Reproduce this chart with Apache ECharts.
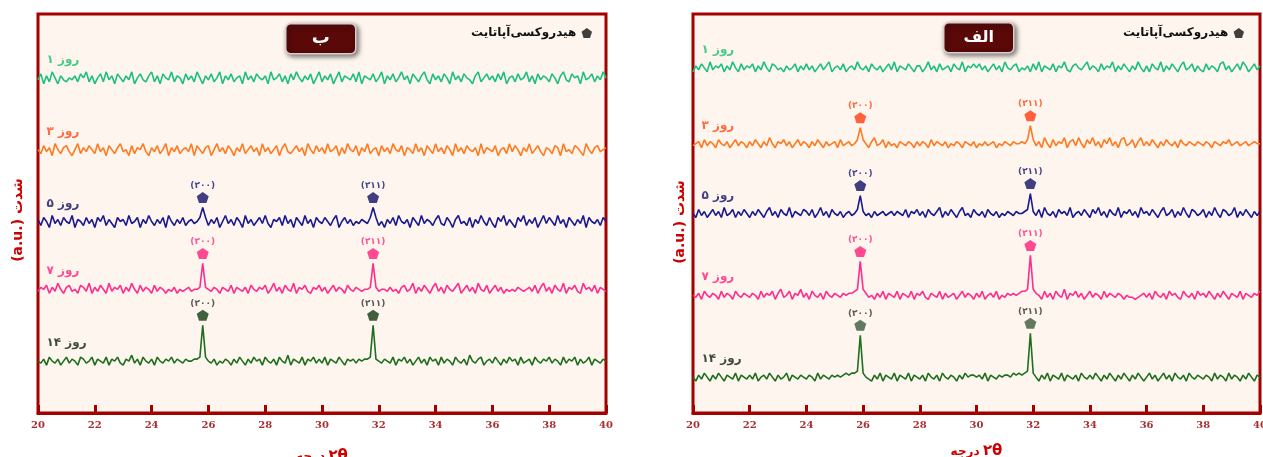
<!DOCTYPE html>
<html><head><meta charset="utf-8">
<script src="https://cdn.jsdelivr.net/npm/echarts@6/dist/echarts.min.js"></script>
<style>html,body{margin:0;padding:0;background:#fff}#c{width:1263px;height:457px}</style>
</head><body><div id="c"></div>
<script>
// ---- data ----
const xStart = 20, xStep = 0.1;
const xTicks = [20,22,24,26,28,30,32,34,36,38,40];
const dayLabels = ['۱ روز','۳ روز','۵ روز','۷ روز','۱۴ روز'];
const peakLabels = ['(۲۰۰)','(۲۱۱)'];
const leftPeaks = [25.8, 31.8];
const rightPeaks = [25.9, 31.9];
const leftPeakDays = [2,3,4];
const rightPeakDays = [1,2,3,4];
const leftOffsets = [163,127,91,57,21];
const rightOffsets = [168,130,95,54,13];

const leftDay1 = [
4,7,2,6,3,8,5,2,6,4,3,5,4,6,3,7,5,8,3,6,
2,5,7,3,8,4,6,2,7,5,3,6,4,8,2,5,7,4,3,6,
8,3,6,2,7,5,4,8,3,6,5,2,7,4,6,3,8,5,2,6,
4,7,3,5,8,2,6,4,7,3,5,6,2,8,4,6,3,7,5,4,
6,2,8,4,5,7,3,6,2,7,4,8,5,3,6,4,7,2,5,8,
3,6,4,7,2,5,8,3,6,5,4,7,3,8,2,6,5,4,7,3,
5,8,2,6,4,7,3,5,8,4,6,2,7,5,3,6,8,4,2,7,
4,6,3,7,5,2,8,4,6,3,7,5,4,2,6,8,3,5,7,4,
6,3,7,4,8,2,5,6,3,7,4,5,8,3,6,2,7,4,6,5,
3,7,5,2,6,8,4,3,7,5,6,2,8,4,5,7,3,6,4,8,
5];
const leftDay3 = [
5,3,7,4,6,2,8,5,3,6,7,4,2,5,8,3,6,4,7,5,
3,8,4,6,2,7,5,3,6,8,4,5,2,7,3,6,5,8,4,2,
6,4,7,3,5,8,2,6,4,7,3,5,6,4,8,2,7,5,3,6,
7,2,5,8,4,6,3,7,5,2,6,4,8,3,5,7,4,6,2,8,
4,6,3,5,7,2,6,8,4,3,5,7,4,6,2,8,5,3,7,4,
6,3,8,4,5,7,2,6,3,8,5,4,7,2,6,4,8,3,5,6,
2,7,4,6,3,8,5,4,7,2,6,5,3,8,4,6,2,7,5,3,
8,4,6,3,7,5,2,8,4,6,3,7,5,4,6,2,8,3,6,5,
4,7,2,5,6,3,8,4,7,5,2,6,4,8,3,5,7,4,2,6,
5,3,7,6,2,8,4,5,3,7,6,4,2,8,5,3,6,7,4,5,
6];
const leftDay5 = [
6,3,7,5,2,8,4,6,3,7,5,4,8,2,6,5,3,7,4,6,
2,7,5,8,3,6,4,2,7,5,6,3,8,4,5,7,2,6,4,8,
5,3,6,4,7,2,8,5,3,6,4,7,3,5,6,4,5,7,12,7,
3,6,4,7,2,5,8,4,6,3,7,5,2,8,4,6,3,5,7,4,
8,4,2,6,5,7,3,8,4,6,2,7,5,3,8,4,6,2,7,5,
4,7,5,3,6,8,2,5,7,4,6,3,5,4,6,5,4,7,12,7,
3,5,2,6,4,7,3,8,5,4,6,2,7,5,3,8,4,6,5,3,
6,8,4,3,7,5,2,6,8,4,5,3,7,2,6,4,8,5,3,7,
4,2,7,5,8,3,6,4,2,7,5,8,3,6,4,7,2,5,8,4,
7,5,3,8,4,6,2,7,5,3,6,4,8,2,7,5,4,6,3,7,
5];
const leftDay7 = [
4,6,5,7,3,6,4,8,5,3,6,7,4,5,3,7,6,4,8,3,
6,4,7,5,3,8,4,6,5,7,3,6,4,8,5,3,7,4,6,5,
3,7,4,6,5,3,5,4,6,3,5,4,5,6,4,5,5,6,18,6,
5,4,6,5,3,6,5,4,7,3,6,5,4,6,3,7,5,4,6,5,
7,3,5,8,4,6,3,7,5,4,8,3,6,5,7,4,3,6,5,7,
4,6,3,5,7,4,6,5,3,7,5,4,6,5,4,5,5,6,18,6,
4,5,5,4,6,4,5,3,6,7,4,5,8,3,6,4,7,5,3,6,
8,4,6,3,7,5,4,6,8,3,5,7,4,6,3,8,5,4,7,3,
5,7,4,6,3,5,4,5,4,6,5,4,5,6,4,7,3,6,8,4,
6,3,7,5,4,8,3,6,5,7,4,3,8,5,6,4,7,3,6,5,
4];
const leftDay14 = [
5,4,6,3,7,5,4,6,3,5,7,4,6,5,3,7,6,4,5,7,
3,6,5,4,7,3,6,5,7,4,3,6,5,8,4,6,3,7,5,4,
6,3,7,5,4,6,5,7,4,6,5,4,6,5,5,6,6,7,23,7,
5,4,6,3,5,4,6,5,3,6,4,7,5,3,6,4,7,5,6,3,
7,5,4,6,3,7,5,4,8,3,6,5,4,7,3,6,5,7,4,6,
4,7,3,6,5,4,7,5,3,6,5,6,4,6,5,6,6,7,23,6,
5,4,6,5,4,7,3,6,5,7,4,6,3,5,7,4,6,3,7,5,
6,3,7,4,6,5,3,7,5,4,6,3,8,5,4,6,7,3,5,6,
4,7,5,3,6,4,7,5,6,3,7,4,5,6,3,7,5,4,6,5,
7,4,6,5,3,7,4,6,5,7,3,6,4,5,7,3,6,5,4,6,
5];
const rightDay1 = [
3,6,4,7,5,3,8,4,6,5,7,3,6,4,8,5,3,7,4,6,
5,7,3,6,4,8,5,3,7,6,4,5,3,6,4,5,7,3,6,4,
7,4,6,3,5,7,4,6,8,3,5,6,4,7,3,5,6,4,8,5,
4,6,3,7,5,4,6,3,5,7,4,8,3,6,5,4,7,5,3,6,
6,3,5,8,4,6,3,7,4,5,6,3,7,5,4,8,3,6,5,7,
5,7,4,6,3,5,7,4,6,3,8,5,4,6,7,3,5,4,6,3,
7,4,8,3,6,5,4,7,3,6,5,8,4,3,6,7,5,4,6,8,
4,6,5,3,7,4,6,5,8,3,6,4,7,5,3,6,4,8,5,3,
6,3,7,5,4,8,3,6,4,7,5,3,6,8,4,5,7,3,6,4,
3,7,4,6,5,3,7,8,4,6,3,5,7,4,8,6,3,5,7,4,
6];
const rightDay3 = [
4,5,6,3,7,4,6,5,3,7,5,4,6,3,5,7,4,6,5,3,
6,4,7,5,3,6,4,8,5,3,6,5,7,4,6,3,5,7,4,6,
5,3,6,4,7,5,3,6,4,5,6,3,7,4,5,6,4,5,7,13,
7,5,3,6,8,4,5,7,3,6,4,5,3,6,5,4,6,5,3,6,
4,6,5,3,7,4,6,5,4,6,3,5,4,6,5,3,6,5,4,6,
3,5,4,6,4,5,6,3,5,4,6,5,4,6,5,5,6,5,7,14,
7,4,6,3,8,5,3,7,4,6,5,8,3,6,7,4,8,5,3,7,
5,8,4,6,3,7,5,8,4,6,3,7,8,4,5,7,3,6,8,4,
6,4,7,5,3,6,4,7,5,4,6,3,7,5,4,6,5,4,6,5,
4,6,5,3,6,5,4,6,5,7,4,5,6,4,5,6,4,5,6,5,
5];
const rightDay5 = [
5,3,7,4,6,3,5,7,4,6,3,8,4,5,7,3,6,4,7,5,
3,6,4,7,5,3,6,8,4,6,3,7,5,4,8,3,6,5,4,7,
6,4,7,3,5,8,4,6,3,7,5,4,6,3,5,6,4,5,7,14,
6,4,5,3,6,4,5,6,4,5,6,4,6,5,4,7,3,6,5,7,
4,6,3,7,5,4,6,8,3,6,4,7,5,3,6,8,4,5,3,7,
5,4,6,3,7,5,4,6,3,5,4,6,5,4,6,5,5,6,7,15,
6,4,7,3,8,5,4,6,3,7,5,6,4,8,3,5,6,4,7,5,
3,7,5,8,4,6,3,7,5,4,8,3,6,5,7,4,6,3,8,5,
6,4,7,5,3,6,8,4,5,7,3,6,4,8,5,3,7,6,4,5,
7,3,6,4,8,5,3,7,6,4,5,8,3,6,4,7,5,3,6,4,
6];
const rightDay7 = [
5,4,6,3,7,5,4,6,5,3,7,4,6,5,3,7,5,4,6,5,
4,6,5,3,7,4,6,5,7,3,6,8,4,5,7,3,6,5,8,4,
6,3,7,5,4,6,3,7,5,4,6,5,4,6,5,6,6,7,8,22,
8,6,4,5,3,6,4,7,3,6,5,4,7,3,6,5,4,7,3,6,
5,7,4,3,6,5,4,7,3,6,4,5,6,3,5,7,4,6,5,3,
6,4,7,3,5,6,4,7,3,5,4,6,5,6,5,6,7,7,8,25,
8,6,5,3,7,4,6,3,7,5,4,8,3,6,5,7,4,6,3,5,
7,4,6,5,3,7,4,6,5,4,6,5,3,5,4,4,3,4,5,6,
4,6,3,7,5,4,6,3,7,5,6,4,3,7,5,4,6,3,7,5,
6,4,7,5,3,6,4,7,5,3,6,5,4,7,3,6,5,4,6,5,
7];
const rightDay14 = [
5,3,6,4,7,5,3,6,4,7,5,3,6,5,4,7,3,6,5,4,
6,4,7,3,5,6,4,7,5,3,6,4,5,7,3,6,5,4,6,5,
4,6,5,3,7,4,6,5,4,6,5,6,5,6,7,6,7,7,8,26,
7,5,4,3,6,4,7,3,6,5,4,7,3,6,5,4,7,3,6,5,
4,6,3,7,5,4,6,3,7,5,4,6,5,3,6,4,7,5,6,6,
5,6,4,7,3,6,5,4,6,5,6,6,5,7,6,7,6,7,8,27,
7,5,3,6,4,7,3,6,5,4,7,3,6,5,4,6,3,7,5,4,
6,4,7,5,3,6,4,7,5,3,6,4,7,5,3,6,4,7,5,3,
5,7,4,6,3,5,7,4,6,3,7,5,4,6,3,7,5,4,6,5,
4,6,5,3,7,4,6,5,3,7,4,6,5,3,6,4,7,5,3,6,
5];

const leftTraces = [leftDay1, leftDay3, leftDay5, leftDay7, leftDay14];
const rightTraces = [rightDay1, rightDay3, rightDay5, rightDay7, rightDay14];

// ---- styles ----
const lineColors = ['#1cc07c','#ff7a20','#1a1a8e','#ff2d8c','#1f6e1f'];
const dayLabelColors = ['#1cbf6a','#ff4a12','#141460','#ff1f7a','#0e200e'];
const markerColors = ['#1cbf6a','#ff3c10','#121266','#ff1f7a','#123c12'];
const markerColorsR = ['#1cbf6a','#ff3c10','#121266','#ff1f7a','#3a5a3a'];
const peakLabelColors = ['#1cbf6a','#ff4a14','#1a1a70','#ff2a82','#333333'];
const pent = 'path://M50,0 L100,36 L81,96 L19,96 L0,36 Z';
const red = '#a30000';
const arFont = 'DejaVu Sans';
const legendName = 'هیدروکسی\u200cآپاتایت';

function toPoints(arr, off){ return arr.map((v,i)=>[+(xStart+i*xStep).toFixed(2), v+off]); }

const series = [];
function addPanel(g, traces, offsets, peaks, peakDays, mColors){
  traces.forEach((arr,k)=>{
    series.push({type:'line', xAxisIndex:g, yAxisIndex:g, data:toPoints(arr, offsets[k]),
      showSymbol:false, symbol:'none', silent:true, animation:false,
      lineStyle:{color:lineColors[k], width:1.6}, z:2});
    series.push({type:'scatter', xAxisIndex:g, yAxisIndex:g, symbolSize:0, silent:true, animation:false,
      data:[[20.3, offsets[k]+5+9]],
      label:{show:true, position:'right', distance:0, formatter:dayLabels[k],
        color:dayLabelColors[k], fontFamily:arFont, fontWeight:'bold', fontSize:12}});
  });
  peakDays.forEach(k=>{
    const arr = traces[k];
    peaks.forEach((px,j)=>{
      const idx = Math.round((px-xStart)/xStep);
      series.push({type:'scatter', xAxisIndex:g, yAxisIndex:g, silent:true, animation:false,
        symbol:pent, symbolSize:[12,11], itemStyle:{color:mColors[k]}, z:5,
        data:[[px, arr[idx]+offsets[k]+5]],
        label:{show:true, position:'top', distance:2, formatter:peakLabels[j],
          color:peakLabelColors[k], fontFamily:arFont, fontWeight:'bold', fontSize:9}});
    });
  });
}
addPanel(0, leftTraces, leftOffsets, leftPeaks, leftPeakDays, markerColors);
addPanel(1, rightTraces, rightOffsets, rightPeaks, rightPeakDays, markerColorsR);
series.push({type:'scatter', name:legendName, data:[], itemStyle:{color:'#111'}, xAxisIndex:0, yAxisIndex:0});

function xAxisCfg(g, gap){
  return {type:'value', gridIndex:g, min:20, max:40, interval:2,
    axisLine:{show:true, lineStyle:{color:red, width:3}},
    axisTick:{show:true, inside:true, length:8, lineStyle:{color:red, width:3}},
    splitLine:{show:false},
    axisLabel:{color:'#a83030', fontFamily:'DejaVu Serif', fontWeight:'bold', fontSize:10, margin:7, showMinLabel:true, showMaxLabel:true},
    name:'{a|درجه} {b|۲θ}', nameLocation:'middle', nameGap:gap,
    nameTextStyle:{rich:{a:{color:'#cc0000', fontFamily:arFont, fontWeight:'bold', fontSize:12},
                        b:{color:'#cc0000', fontFamily:arFont, fontWeight:'bold', fontSize:15}}}};
}
function yAxisCfg(g){ return {type:'value', gridIndex:g, min:0, max:200, show:false}; }
function legendCfg(right){
  return {data:[legendName], right:right, top:22, orient:'horizontal', align:'right',
    icon:pent, itemWidth:11, itemHeight:10, itemGap:4, selectedMode:false,
    textStyle:{color:'#111', fontFamily:arFont, fontWeight:'bold', fontSize:12}};
}
function panelBox(x, y, txt, fs){
  return {type:'group', left:x, top:y, children:[
    {type:'rect', shape:{x:0,y:0,width:70,height:30,r:5},
     style:{fill:'#5a0808', stroke:'#d9cfcf', lineWidth:1.5, shadowBlur:5, shadowColor:'rgba(0,0,0,0.55)', shadowOffsetX:2, shadowOffsetY:2}},
    {type:'text', x:35, y:15, style:{text:txt, fill:'#fff', font:'bold '+fs+'px "DejaVu Sans"', textAlign:'center', textVerticalAlign:'middle'}}
  ]};
}
function yTitle(x, y){
  return {type:'text', x:x, y:y, rotation:Math.PI/2,
    style:{text:'(a.u.) شدت', fill:'#cc0000', font:'bold 14px "DejaVu Sans"', textAlign:'center', textVerticalAlign:'middle'}};
}

const chart = echarts.init(document.getElementById('c'), null, {renderer:'canvas'});
chart.setOption({
  animation:false,
  backgroundColor:'#ffffff',
  grid:[
    {left:38, top:14, width:568, height:399, show:true, backgroundColor:'#fdf5ee', borderColor:red, borderWidth:3, containLabel:false, outerBoundsMode:'none'},
    {left:693, top:14, width:567, height:399, show:true, backgroundColor:'#fdf5ee', borderColor:red, borderWidth:3, containLabel:false, outerBoundsMode:'none'}
  ],
  xAxis:[xAxisCfg(0,36), xAxisCfg(1,31)],
  yAxis:[yAxisCfg(0), yAxisCfg(1)],
  legend:[legendCfg(666), legendCfg(14)],
  graphic:[panelBox(285,23,'ب',18), panelBox(943,22,'الف',16), yTitle(18,220), yTitle(680,222)],
  series:series
});
</script></body></html>
